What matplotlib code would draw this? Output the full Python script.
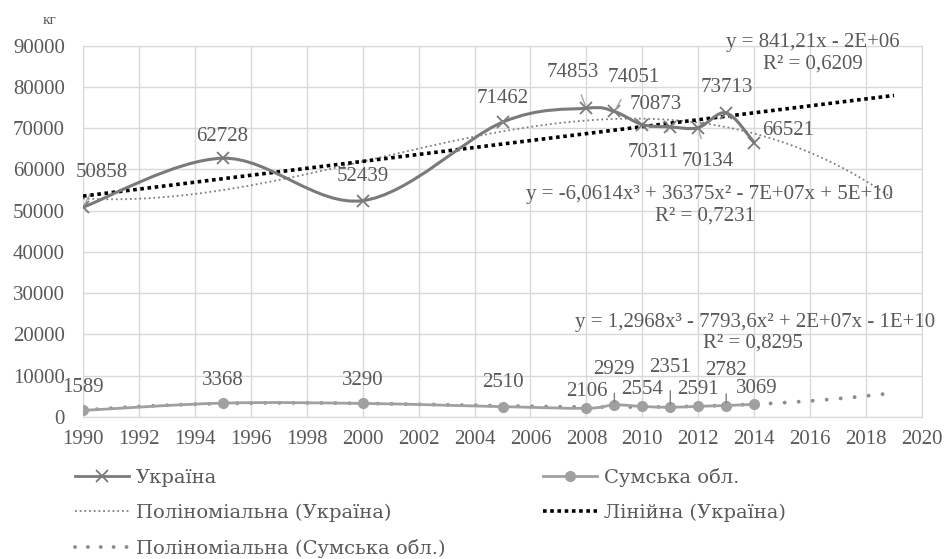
import numpy as np
import matplotlib.pyplot as plt
from matplotlib.path import Path
from matplotlib.patches import PathPatch
from matplotlib.lines import Line2D

# --- дані ---
years = [1990, 1995, 2000, 2005, 2008, 2009, 2010, 2011, 2012, 2013, 2014]
ukraine = [50858, 62728, 52439, 71462, 74853, 74051, 70873, 70311, 70134, 73713, 66521]
sumy = [1589, 3368, 3290, 2510, 2106, 2929, 2554, 2351, 2591, 2782, 3069]

# зсув підписів (px): dx, dy
ukr_offsets = [(19, 35), (-1, 22), (0, 24), (0, 24), (-14, 36), (19, 34),
               (13, 20), (-17, -26), (9, -34), (1, 25), (34, 12)]
ukr_leader = [True, False, False, True, True, True, False, True, True, False, False]
sumy_offsets = [(0, 23), (0, 23), (0, 23), (0, 24), (0, 17), (0, 35),
                (0, 17), (0, 40), (0, 17), (0, 35), (3, 16)]
sumy_leader = [False, False, False, False, False, True, False, True, False, True, False]

TXT = '#595959'
GRID = '#d9d9d9'
FS = 15
plt.rcParams['font.family'] = ['Liberation Serif', 'DejaVu Serif']


def smooth_path(xs, ys):
    # згладжена лінія як у Excel (кубічні криві Безьє)
    pts = np.column_stack([xs, ys]).astype(float)
    n = len(pts)
    verts = [pts[0]]
    codes = [Path.MOVETO]
    for i in range(n - 1):
        p0 = pts[i - 1] if i > 0 else pts[i]
        p1 = pts[i]
        p2 = pts[i + 1]
        p3 = pts[i + 2] if i + 2 < n else pts[i + 1]
        verts += [p1 + (p2 - p0) / 6, p2 - (p3 - p1) / 6, p2]
        codes += [Path.CURVE4] * 3
    return Path(verts, codes)


fig = plt.figure(figsize=(9.45, 5.59), dpi=100)
ax = fig.add_axes([83 / 945, 1 - 417 / 559, (922 - 83) / 945, (417 - 45.7) / 559])

x = np.array(years, dtype=float)
yu = np.array(ukraine, dtype=float)
ys = np.array(sumy, dtype=float)

# тренди
xt = np.linspace(1990, 2019, 300)
pu3 = np.polyfit(x - 2000, yu, 3)
pu1 = np.polyfit(x - 2000, yu, 1)
ps3 = np.polyfit(x - 2000, ys, 3)

ukr_col = '#7a7a7a'
sumy_col = '#a0a0a0'

ax.add_patch(PathPatch(smooth_path(x, yu), fill=False, edgecolor=ukr_col, lw=2.2, zorder=4))
ax.plot(x, yu, ls='none', marker='x', ms=9, mew=1.3, color=ukr_col, zorder=5)

ax.add_patch(PathPatch(smooth_path(x, ys), fill=False, edgecolor=sumy_col, lw=2.0, zorder=4))
ax.plot(x, ys, ls='none', marker='o', ms=7, color=sumy_col, zorder=5)

ax.plot(xt, np.polyval(pu3, xt - 2000), color='#7f7f7f', lw=1.3, ls=(0, (1, 1.6)), zorder=3)
ax.plot(xt, np.polyval(pu1, xt - 2000), color='black', lw=2.6, ls=(0, (1, 1)),
        solid_capstyle='butt', dash_capstyle='butt', zorder=3)
ax.plot(xt, np.polyval(ps3, xt - 2000), color='#8c8c8c', lw=2.8, ls=(0, (0.01, 3.6)),
        dash_capstyle='round', zorder=3)

# підписи даних
px = 0.72
for xi, v, (dx, dy), ld in zip(years, ukraine, ukr_offsets, ukr_leader):
    ax.annotate(str(v), (xi, v), xytext=(dx * px, dy * px), textcoords='offset points',
                ha='center', va='center', fontsize=FS, color=TXT, zorder=6,
                arrowprops=dict(arrowstyle='-', color='#a6a6a6', lw=1.0, shrinkA=8, shrinkB=2) if ld else None)
for xi, v, (dx, dy), ld in zip(years, sumy, sumy_offsets, sumy_leader):
    ax.annotate(str(v), (xi, v), xytext=(dx * px, dy * px), textcoords='offset points',
                ha='center', va='center', fontsize=FS, color=TXT, zorder=6,
                arrowprops=dict(arrowstyle='-', color='#7f7f7f', lw=1.0, shrinkA=8, shrinkB=2) if ld else None)

# рівняння трендів
eq_kw = dict(fontsize=FS, color=TXT, ha='center', va='center', transform=fig.transFigure)
fig.text(813 / 945, 1 - 42 / 559, 'y = 841,21x - 2E+06', **eq_kw)
fig.text(813 / 945, 1 - 64 / 559, 'R² = 0,6209', **eq_kw)
fig.text(709 / 945, 1 - 195 / 559, 'y = -6,0614x³ + 36375x² - 7E+07x + 5E+10', **eq_kw)
fig.text(705 / 945, 1 - 216 / 559, 'R² = 0,7231', **eq_kw)
fig.text(755 / 945, 1 - 322 / 559, 'y = 1,2968x³ - 7793,6x² + 2E+07x - 1E+10', **eq_kw)
fig.text(753 / 945, 1 - 343 / 559, 'R² = 0,8295', **eq_kw)

ax.set_xlim(1990, 2020)
ax.set_ylim(0, 90000)
ax.set_xticks(range(1990, 2021, 2))
ax.set_yticks(range(0, 90001, 10000))
ax.grid(True, color=GRID, lw=1.0)
ax.set_axisbelow(True)
for s in ax.spines.values():
    s.set_color(GRID)
ax.tick_params(length=0, labelsize=FS, labelcolor=TXT)
ax.tick_params(axis='y', pad=13)
ax.tick_params(axis='x', pad=9)

fig.text(50 / 945, 1 - 20 / 559, 'кг', fontsize=11, color=TXT, ha='center', va='center')

handles = [
    Line2D([], [], color=ukr_col, lw=2.0, marker='x', ms=8, mew=1.3),
    Line2D([], [], color='#7f7f7f', lw=1.3, ls=(0, (1, 1.6))),
    Line2D([], [], color='#8c8c8c', lw=2.8, ls=(0, (0.01, 3.3)), dash_capstyle='round'),
    Line2D([], [], color=sumy_col, lw=2.0, marker='o', ms=7),
    Line2D([], [], color='black', lw=2.6, ls=(0, (1, 1)), dash_capstyle='butt'),
]
labels = ['Україна', 'Поліноміальна (Україна)', 'Поліноміальна (Сумська обл.)',
          'Сумська обл.', 'Лінійна (Україна)']
fig.legend(handles, labels, ncol=2, loc='upper left', bbox_to_anchor=(75 / 945, 1 - 468 / 559),
           frameon=False, prop={'family': 'DejaVu Serif', 'size': 14}, labelcolor=TXT,
           handlelength=2.8, handletextpad=0.35, columnspacing=5.0, labelspacing=0.86,
           borderpad=0, borderaxespad=0)

fig.savefig('out.png', dpi=100)
